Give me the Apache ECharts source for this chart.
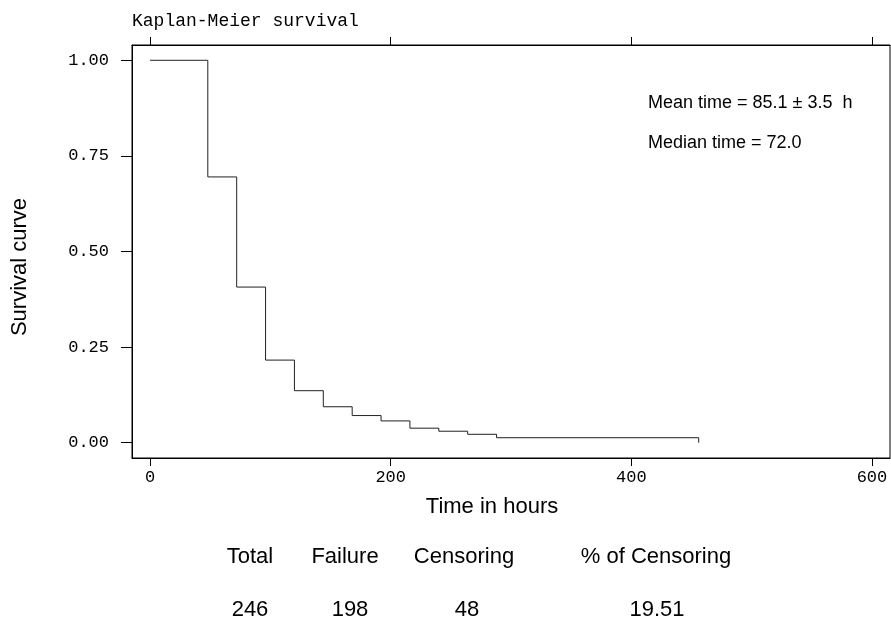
<!DOCTYPE html>
<html>
<head>
<meta charset="utf-8">
<script src="https://cdn.jsdelivr.net/npm/echarts@6/dist/echarts.min.js"></script>
<style>
  html, body { margin: 0; padding: 0; background: #fff; }
  #km_chart { width: 891px; height: 618px; }
</style>
</head>
<body>
<div id="km_chart"></div>
<script>
// survival curve (hours, S(t))
const times = [0, 48, 72, 96, 120, 144, 168, 192, 216, 240, 264, 288, 456]
const survival = [1, 0.695, 0.407, 0.216, 0.136, 0.094, 0.071, 0.057, 0.038, 0.030, 0.022, 0.013, 0]

const xTicks = [0, 200, 400, 600]
const yTicks = [0, 0.25, 0.5, 0.75, 1]

const statLines = ['Mean time = 85.1 \u00b1 3.5  h', 'Median time = 72.0']
const tableHeaders = ['Total', 'Failure', 'Censoring', '% of Censoring']
const tableValues = ['246', '198', '48', '19.51']

const mono = '"Liberation Mono", "Courier New", monospace'
const sans = '"Liberation Sans", Arial, Helvetica, sans-serif'

const chart = echarts.init(document.getElementById('km_chart'))

const points = times.map((t, i) => [t, survival[i]])

// text positions of the table columns
const headerX = [250, 345, 464, 656]
const valueX = [250, 350, 467, 657]

const graphics = [
  {
    type: 'text',
    style: { text: 'Kaplan-Meier survival', x: 132, y: 21, textVerticalAlign: 'middle', font: '18px ' + mono, fill: '#000' }
  },
  {
    type: 'text', x: 20, y: 267, rotation: Math.PI / 2,
    style: { text: 'Survival curve', x: 0, y: 0, textAlign: 'center', textVerticalAlign: 'middle', font: '22px ' + sans, fill: '#000' }
  },
  {
    type: 'text',
    style: { text: 'Time in hours', x: 492, y: 507, textAlign: 'center', textVerticalAlign: 'middle', font: '22px ' + sans, fill: '#000' }
  }
]
statLines.forEach((s, i) => {
  graphics.push({
    type: 'text',
    style: { text: s, x: 648, y: 103 + i * 40, textVerticalAlign: 'middle', font: '18px ' + sans, fill: '#000' }
  })
})
tableHeaders.forEach((s, i) => {
  graphics.push({
    type: 'text',
    style: { text: s, x: headerX[i], y: 557, textAlign: 'center', textVerticalAlign: 'middle', font: '22px ' + sans, fill: '#000' }
  })
})
tableValues.forEach((s, i) => {
  graphics.push({
    type: 'text',
    style: { text: s, x: valueX[i], y: 610, textAlign: 'center', textVerticalAlign: 'middle', font: '22px ' + sans, fill: '#000' }
  })
})

const option = {
  animation: false,
  backgroundColor: '#fff',
  grid: {
    left: 132, right: 1, top: 45, bottom: 160,
    show: true, borderColor: '#000', borderWidth: 1, backgroundColor: 'transparent'
  },
  xAxis: [
    {
      type: 'value', position: 'bottom', min: -15, max: 615,
      axisLine: { show: true, onZero: false, lineStyle: { color: '#000', width: 1 } },
      axisTick: { show: true, length: 8, lineStyle: { color: '#000' }, customValues: xTicks },
      axisLabel: {
        customValues: xTicks, margin: 11,
        color: '#000', fontFamily: mono, fontSize: 17
      },
      splitLine: { show: false }
    },
    {
      type: 'value', position: 'top', min: -15, max: 615,
      axisLine: { show: true, onZero: false, lineStyle: { color: '#000', width: 1 } },
      axisTick: { show: true, length: 8, lineStyle: { color: '#000' }, customValues: xTicks },
      axisLabel: { show: false },
      splitLine: { show: false }
    }
  ],
  yAxis: {
    type: 'value', min: -0.04, max: 1.04,
    axisLine: { show: true, onZero: false, lineStyle: { color: '#000', width: 1 } },
    axisTick: { show: true, length: 11, lineStyle: { color: '#000' }, customValues: yTicks },
    axisLabel: {
      customValues: yTicks, margin: 23,
      color: '#000', fontFamily: mono, fontSize: 17,
      formatter: v => v.toFixed(2)
    },
    splitLine: { show: false }
  },
  series: [
    {
      type: 'line',
      step: 'end',
      data: points,
      showSymbol: false,
      lineStyle: { color: '#222', width: 1 }
    }
  ],
  graphic: graphics
}

chart.setOption(option)
</script>
</body>
</html>
